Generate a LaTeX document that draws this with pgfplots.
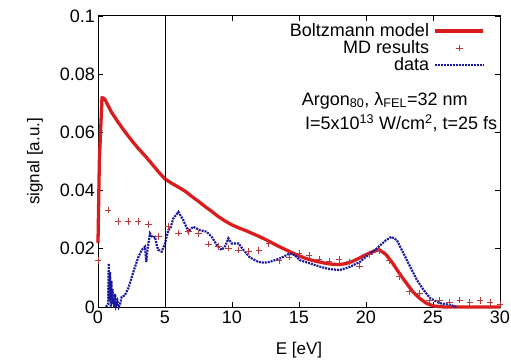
\documentclass[border=0pt]{standalone}
\usepackage{pgfplots}
\pgfplotsset{compat=1.18}
\usepackage{fontspec}
\setmainfont{Liberation Sans}
\definecolor{bred}{RGB}{218,28,28}
\definecolor{mdred}{RGB}{185,60,60}
\definecolor{dblue}{RGB}{25,25,160}
\begin{document}
\fontsize{18bp}{20bp}\selectfont
\begin{tikzpicture}
\begin{axis}[name=ax,
  width=402bp, height=291bp, scale only axis,
  xmin=0, xmax=30, ymin=0, ymax=0.1,
  xtick={0,5,10,15,20,25,30},
  ytick={0,0.02,0.04,0.06,0.08,0.1},
  yticklabels={0,0.02,0.04,0.06,0.08,0.1},
  /pgf/number format/assume math mode=true,
  tick label style={font=\fontsize{18bp}{20bp}\selectfont},
  yticklabel style={inner sep=3bp},
  xticklabel style={inner sep=4bp},
  label style={font=\fontsize{17bp}{19bp}\selectfont},
  major tick length=5bp,
  tick align=inside,
  axis line style={line width=1pt},
  every tick/.style={black, line width=0.8pt},
  xlabel={E [eV]}, ylabel={signal [a.u.]},
  xlabel style={at={(axis description cs:0.5,-0.148)}, anchor=center},
  ylabel style={at={(axis description cs:-0.157,0.5)}, anchor=center},
  clip=false,
  legend cell align=right,
  legend plot pos=right,
  legend style={draw=none, fill=none, at={(rel axis cs:0.963,0.978)}, anchor=north east,
    font=\fontsize{18bp}{18bp}\selectfont, row sep=0pt, column sep=4bp, inner sep=0pt,
    nodes={inner sep=0.6bp}},
  legend image code/.code={\draw[mark repeat=2,mark phase=2,#1] plot coordinates {(0bp,0bp) (24bp,0bp) (48bp,0bp)};},
]
\addplot[bred, line width=3.3pt, line join=round] coordinates {
(0,0.022) (0.1,0.05) (0.3,0.072) (0.5,0.0715) (1,0.067) (1.5,0.0635) (2,0.0603) (2.5,0.0573)
(3,0.0545) (3.5,0.052) (4,0.0493) (4.5,0.0465) (5,0.0440) (5.5,0.0425) (6,0.0412) (6.5,0.0398)
(7,0.038) (7.5,0.0363) (8,0.0345) (8.5,0.0328) (9,0.031) (9.5,0.0295) (10,0.0282) (10.5,0.0272)
(11,0.0263) (11.5,0.0253) (12,0.0243) (12.5,0.0232) (13,0.0220) (13.5,0.0208) (14,0.0197)
(14.5,0.0186) (15,0.0176) (15.5,0.0167) (16,0.016) (16.5,0.0155) (17,0.015) (17.5,0.0147)
(18,0.0146) (18.5,0.0149) (19,0.0157) (19.5,0.0168) (20,0.018) (20.5,0.019) (21,0.0197)
(21.5,0.018) (22,0.015) (22.5,0.0115) (23,0.0083) (23.5,0.0052) (24,0.003) (24.5,0.0013)
(25,0.0004) (25.5,0.0001) (26,0) (30,0)
};
\addlegendentry{Boltzmann model}
\addplot[only marks, mark=+, mark size=3.3pt, mdred, line width=0.8pt] coordinates {
(0,0.016) (0.75,0.0333) (1.5,0.0293) (2.25,0.0293) (3.0,0.0293) (3.75,0.0284) (4.5,0.0243)
(5.25,0.0276) (6.0,0.0254) (6.75,0.0260) (7.5,0.0252) (8.25,0.0216) (9.0,0.0207) (9.75,0.0203)
(10.5,0.0196) (11.25,0.0190) (12.0,0.0195) (12.75,0.0217) (13.5,0.0160) (14.25,0.0172)
(15.0,0.0185) (15.75,0.0177) (16.5,0.0165) (17.25,0.0156) (18.0,0.0163) (18.75,0.0155)
(19.5,0.0141) (20.25,0.0180) (21.0,0.0195) (21.75,0.0160) (22.5,0.0104) (23.25,0.0053)
(24.0,0.0047) (24.75,0.0024) (25.5,0.0022) (26.25,0.0015) (27.0,0.0024) (27.75,0.0015)
(28.5,0.0022) (29.25,0.0015) (30.0,0.0010)
};
\addlegendentry{MD results}
\addplot[dblue, line width=2.2pt, dash pattern=on 2pt off 1pt] coordinates {
(0.6,0) (0.75,0.001) (0.8,0.015) (0.85,0.002) (0.9,0.012) (0.95,0.0) (1.0,0.009) (1.05,0.001)
(1.1,0.006) (1.2,0.0) (1.27,0.0045) (1.35,0.0005) (1.45,0.002) (1.55,0.0) (1.65,0.001)
(1.77,0.0035) (2.0,0.004) (2.26,0.0064) (2.5,0.010) (2.76,0.0138) (3.0,0.017) (3.26,0.0196)
(3.5,0.0207) (3.6,0.0155) (3.7,0.020) (3.88,0.0253) (4.05,0.024) (4.25,0.0241) (4.4,0.021)
(4.5,0.0196) (4.75,0.019) (5.0,0.0218) (5.25,0.0265) (5.4,0.027) (5.62,0.0304) (6.0,0.0327)
(6.37,0.0298) (6.74,0.0259) (7.1,0.0276) (7.6,0.0264) (8.1,0.0259) (8.49,0.0241) (8.86,0.0213)
(9.23,0.0196) (9.5,0.021) (9.73,0.0236) (9.98,0.0218) (10.5,0.0218) (10.85,0.0196) (11.34,0.0170)
(11.96,0.0155) (12.4,0.0152) (12.8,0.0155) (13.6,0.0167) (14.3,0.0184) (14.7,0.0178)
(15.07,0.0161) (15.8,0.0150) (16.6,0.0138) (17.3,0.0130) (18.06,0.0127) (18.8,0.0138)
(19.55,0.0155) (20.2,0.0180) (20.8,0.0201) (21.5,0.0230) (21.9,0.0241) (22.3,0.0230)
(22.8,0.0184) (23.3,0.0138) (23.8,0.0093) (24.3,0.0058) (24.8,0.0030) (25.5,0.0013)
(26.3,0.0007) (26.8,0.0)
};
\addlegendentry{data}
\addplot[black, line width=0.8pt, forget plot] coordinates {(5,0) (5,0.1)};
\node[anchor=east, inner sep=0pt] at (axis cs:27.6,0.071) {Argon\textsubscript{80}, λ\textsubscript{FEL}=32 nm};
\node[anchor=east, inner sep=0pt] at (axis cs:29.8,0.0631) {I=5x10\textsuperscript{13} W/cm\textsuperscript{2}, t=25 fs};
\end{axis}
\pgfresetboundingbox
\path[use as bounding box] ([shift={(-98bp,-56bp)}]ax.south west) rectangle ([shift={(11bp,16bp)}]ax.north east);
\end{tikzpicture}
\end{document}
